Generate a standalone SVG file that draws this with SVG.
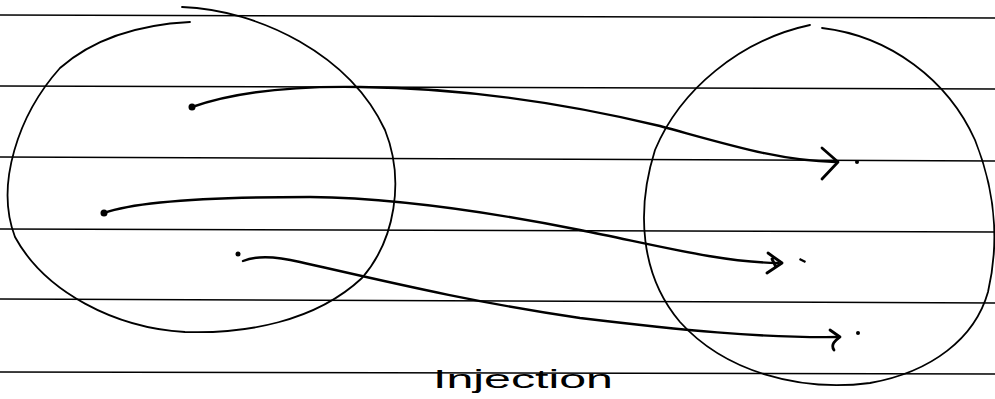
<svg xmlns="http://www.w3.org/2000/svg" width="995" height="399" viewBox="0 0 995 399">
<style>
.rule{stroke:#000;stroke-width:1.6;fill:none}
.set{stroke:#000;stroke-width:1.8;fill:none;stroke-linecap:round}
.map{stroke:#000;stroke-width:2.4;fill:none;stroke-linecap:round;stroke-linejoin:round}
.head{stroke:#000;stroke-width:2.8;fill:none;stroke-linecap:round;stroke-linejoin:round}
.pt{fill:#000}
.lbl{font-family:"Liberation Sans","DejaVu Sans",sans-serif;font-size:26px;fill:#000}
</style>
<rect width="995" height="399" fill="#fff"/>
<g id="ruled-lines">
<line class="rule" x1="0" y1="15" x2="995" y2="18"/>
<line class="rule" x1="0" y1="86" x2="995" y2="89"/>
<line class="rule" x1="0" y1="157" x2="995" y2="161"/>
<line class="rule" x1="0" y1="229" x2="995" y2="232"/>
<line class="rule" x1="0" y1="299" x2="995" y2="303"/>
<line class="rule" x1="0" y1="372" x2="995" y2="374"/>
</g>
<g id="domain">
<path class="set" d="M182,7 C260,10 350,55 385,130 C405,180 395,240 362,278 C315,322 245,334 185,332 C115,328 45,292 15,237 C-5,185 18,115 60,68 C100,33 150,24 190,22"/>
<circle class="pt" cx="192" cy="107" r="3.5"/>
<circle class="pt" cx="104" cy="213" r="3.5"/>
<circle class="pt" cx="238" cy="254" r="2.5"/>
</g>
<g id="codomain">
<path class="set" d="M810,25 C740,40 680,90 655,150 C636,210 640,275 680,322 C725,372 800,392 870,383 C932,372 975,338 988,292 C1000,240 995,190 975,140 C948,80 890,36 822,28"/>
<circle class="pt" cx="857" cy="162" r="2"/>
<path class="pt" d="M800,258 L806,261 L805,263 L799,260 Z"/>
<circle class="pt" cx="858" cy="333" r="2"/>
</g>
<g id="connectors">
<path class="map" d="M192,107 C240,90 300,86 360,87 C460,88 560,102 660,126 C730,145 780,161 836,162"/>
<path class="head" d="M822,148 L838,162 L822,179"/>
<path class="map" d="M104,213 C140,200 220,197 310,197 C400,198 500,214 580,230 C660,246 720,262 778,263"/>
<path class="head" d="M768,253 L782,263 L767,273 M772,259 L776,267"/>
<path class="map" d="M243,261 C255,256 275,256 300,262 C380,280 470,302 580,318 C680,330 760,338 838,337"/>
<path class="head" d="M830,330 L840,337 C836,340 830,344 834,350"/>
</g>
<g id="caption">
<text class="lbl" x="433" y="388" textLength="180" lengthAdjust="spacingAndGlyphs">Injection</text>
</g>
</svg>
